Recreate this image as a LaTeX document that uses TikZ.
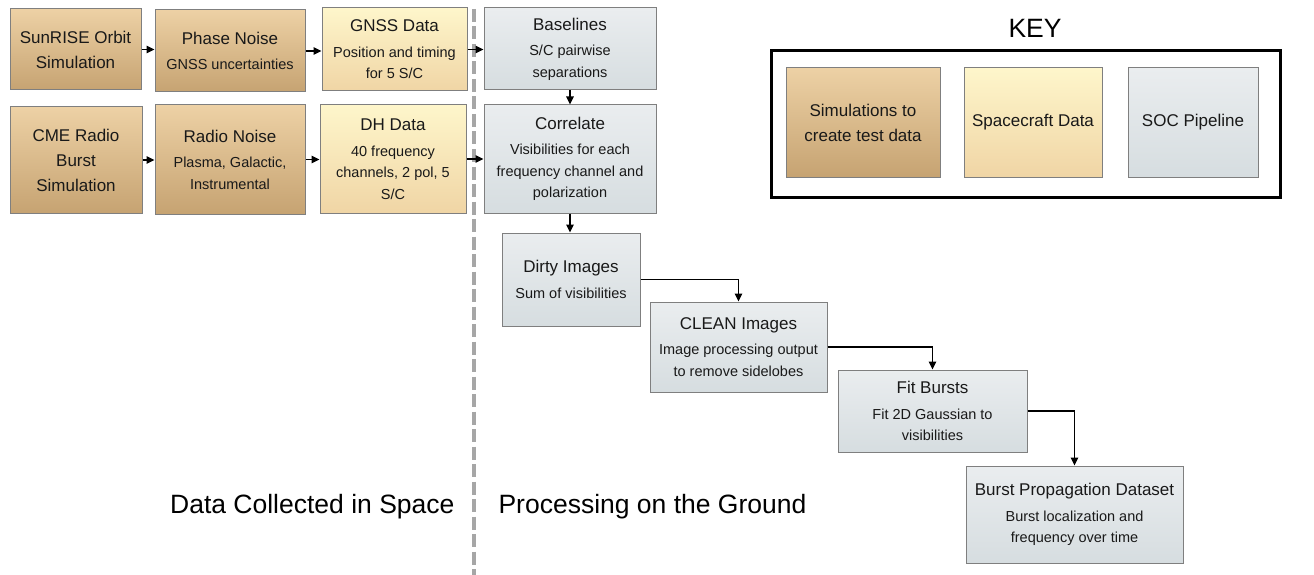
\documentclass[tikz,border=0pt]{standalone}
\usepackage{fontspec}
\setmainfont{Liberation Sans}
\usetikzlibrary{arrows.meta}

\definecolor{simtop}{HTML}{EDD1A5}
\definecolor{simbot}{HTML}{C6A372}
\definecolor{sctop}{HTML}{FEF6CB}
\definecolor{scbot}{HTML}{F0D5A5}
\definecolor{soctop}{HTML}{EAEDEF}
\definecolor{socbot}{HTML}{D6DDE0}
\definecolor{edgegray}{HTML}{7F7F7F}
\definecolor{divider}{HTML}{A6A6A6}

\newcommand\ttl{\fontsize{17}{25}\selectfont}
\newcommand\subt{\fontsize{14.5}{21.5}\selectfont}
\newcommand\biglbl{\fontsize{26.5}{30}\selectfont}

\tikzset{
  box/.style={rectangle, draw=edgegray, line width=1pt, align=center,
    inner sep=0pt, font=\subt, text=black!90},
  simbox/.style={box, top color=simtop, bottom color=simbot},
  scbox/.style={box, top color=sctop, bottom color=scbot},
  socbox/.style={box, top color=soctop, bottom color=socbot},
  conn/.style={line width=1.3pt, -{Triangle[length=8pt,width=7.5pt]}},
  sidelabel/.style={font=\biglbl, text=black}
}

\begin{document}
\begin{tikzpicture}[x=1pt, y=-1pt]
\useasboundingbox (0,0) rectangle (1314,575);

% dividing line between space and ground segments
\draw[divider, line width=4pt, dash pattern=on 13pt off 4.5pt] (474,9) -- (474,575);

% simulations
\node[simbox, minimum width=131, minimum height=81, font=\ttl] (orbit) at (75.5,49.5)
  {SunRISE Orbit\\Simulation};
\node[simbox, minimum width=150, minimum height=82] (phase) at (230,51)
  {{\ttl Phase Noise}\\[4pt]GNSS uncertainties};
\node[simbox, minimum width=132, minimum height=106, font=\ttl] (cme) at (76,160)
  {CME Radio\\Burst\\Simulation};
\node[simbox, minimum width=150, minimum height=109] (radio) at (230,159.5)
  {{\ttl Radio Noise}\\[4pt]Plasma, Galactic,\\Instrumental};

% spacecraft data
\node[scbox, minimum width=145, minimum height=83] (gnss) at (394.5,49.5)
  {{\ttl GNSS Data}\\[4pt]Position and timing\\for 5 S/C};
\node[scbox, minimum width=146, minimum height=108] (dh) at (393,159)
  {{\ttl DH Data}\\[4pt]40 frequency\\channels, 2 pol, 5\\S/C};

% SOC pipeline
\node[socbox, minimum width=172, minimum height=82] (base) at (570,49)
  {{\ttl Baselines}\\[4pt]S/C pairwise\\separations};
\node[socbox, minimum width=172, minimum height=108] (corr) at (570,159)
  {{\ttl Correlate}\\[4pt]Visibilities for each\\frequency channel and\\polarization};
\node[socbox, minimum width=138, minimum height=93] (dirty) at (571,279.5)
  {{\ttl Dirty Images}\\[4pt]Sum of visibilities};
\node[socbox, minimum width=177, minimum height=90] (clean) at (738.5,347)
  {{\ttl CLEAN Images}\\[4pt]Image processing output\\to remove sidelobes};
\node[socbox, minimum width=189, minimum height=82] (fit) at (932.5,411)
  {{\ttl Fit Bursts}\\[4pt]Fit 2D Gaussian to\\visibilities};
\node[socbox, minimum width=217, minimum height=97] (burst) at (1074.5,514.5)
  {{\ttl Burst Propagation Dataset}\\[4pt]Burst localization and\\frequency over time};

% connectors
\draw[conn] (orbit.east) -- (orbit.east -| phase.west);
\draw[conn] (phase.east) -- (phase.east -| gnss.west);
\draw[conn] (cme.east) -- (cme.east -| radio.west);
\draw[conn] (radio.east) -- (radio.east -| dh.west);
\draw[conn] (gnss.east) -- (gnss.east -| base.west);
\draw[conn] (dh.east) -- (dh.east -| corr.west);
\draw[conn] (base.south) -- (corr.north);
\draw[conn] (corr.south) -- (corr.south |- dirty.north);
\draw[conn] (dirty.east) -| (clean.north);
\draw[conn] (clean.east) -| (fit.north);
\draw[conn] (fit.east) -| (burst.north);

% segment labels
\node[sidelabel, anchor=east] (spacelbl) at (458,507) {Data Collected in Space};
\node[sidelabel, anchor=west] (groundlbl) at (495,507) {Processing on the Ground};

% key
\node[sidelabel] (keytitle) at (1035,28) {KEY};
\node[draw=black, line width=3pt, minimum width=509, minimum height=146] (keyframe) at (1025.5,124) {};
\node[simbox, minimum width=154, minimum height=109, font=\ttl] (keysim) at (863,122.5)
  {Simulations to\\create test data};
\node[scbox, minimum width=138, minimum height=109, font=\ttl] (keysc) at (1033,122.5)
  {Spacecraft Data};
\node[socbox, minimum width=130, minimum height=109, font=\ttl] (keysoc) at (1193,122.5)
  {SOC Pipeline};
\end{tikzpicture}
\end{document}
